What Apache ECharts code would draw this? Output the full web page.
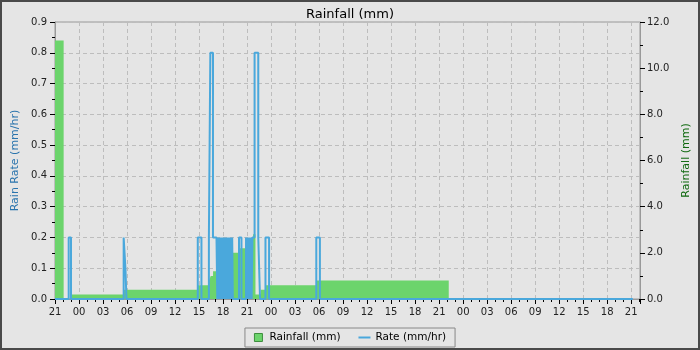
<!DOCTYPE html>
<html>
<head>
<meta charset="utf-8">
<script src="https://cdn.jsdelivr.net/npm/echarts@6/dist/echarts.min.js"></script>
<style>
html,body{margin:0;padding:0;background:#e5e5e5;}
#chart{width:700px;height:350px;}
</style>
</head>
<body>
<div id="chart"></div>
<script>
// x values: hours since 21:00 on the first day
const xTickLabels = ["21","00","03","06","09","12","15","18","21","00","03","06","09","12","15","18","21","00","03","06","09","12","15","18","21"];

// Rain rate (mm/hr), step values held until the next time
const rateTimes  = [0, 1.71, 2.0, 8.58, 8.8, 8.93, 17.84, 18.3, 19.23, 19.41, 19.74,
  20.18, 20.28, 20.38, 20.48, 20.58, 20.68, 20.78, 20.88, 20.98, 21.08, 21.18,
  21.28, 21.38, 21.48, 21.58, 21.68, 21.78, 21.88, 21.98, 22.08, 22.14, 22.22,
  22.99, 23.3,
  23.87, 23.97, 24.07, 24.17, 24.27, 24.37, 24.47, 24.57, 24.67,
  24.94, 25.4, 25.62, 26.3, 26.75, 32.65, 33.1, 72.2];
const rateValues = [0, 0.2, 0, 0.2, 0.1, 0, 0.2, 0, 0.2, 0.8, 0.2,
  0.2, 0, 0.2, 0, 0.2, 0, 0.2, 0, 0.2, 0, 0.2,
  0, 0.2, 0, 0.2, 0, 0.2, 0, 0.2, 0, 0.2, 0,
  0.2, 0,
  0.2, 0, 0.2, 0, 0.2, 0, 0.2, 0, 0.2,
  0.8, 0.2, 0, 0.2, 0, 0.2, 0, 0];

// Rainfall (mm), step values held until the next time
const rainTimes  = [0, 1.08, 2.05, 8.5, 17.75, 19.25, 19.46, 19.75, 20.2, 20.8, 21.5, 22.17, 23.0, 23.84, 24.3, 24.75, 25.05, 25.7, 26.3, 32.68, 49.2, 72.2];
const rainValues = [11.2, 0, 0.2, 0.4, 0.6, 0.8, 1.0, 1.2, 1.4, 1.6, 1.8, 2.0, 2.2, 2.4, 2.6, 2.8, 0.2, 0.4, 0.6, 0.8, 0, 0];

const FONT = 'DejaVu Sans';
const BLUE = '#4aa8dc';
const GREEN = '#6cd46c';
const chart = echarts.init(document.getElementById('chart'), null, {renderer: 'canvas'});
chart.setOption({
  animation: false,
  backgroundColor: '#e5e5e5',
  textStyle: {fontFamily: FONT},
  title: {
    text: 'Rainfall (mm)', left: 'center', top: 3,
    textStyle: {fontFamily: FONT, fontSize: 13, fontWeight: 'normal', color: '#000'}
  },
  legend: {
    bottom: 3, left: 'center',
    borderColor: '#888', borderWidth: 1, padding: [4, 9],
    itemGap: 18, itemWidth: 12, itemHeight: 8,
    textStyle: {fontFamily: FONT, fontSize: 10.5, color: '#000'},
    data: [
      {name: 'Rainfall (mm)', icon: 'path://M0,0 L8,0 L8,8 L0,8 Z', itemStyle: {color: GREEN, borderColor: '#3e8e3e', borderWidth: 1}},
      {name: 'Rate (mm/hr)', icon: 'path://M0,0 L12,0 L12,2 L0,2 Z', itemStyle: {color: BLUE, borderWidth: 0}}
    ]
  },
  graphic: [{
    type: 'rect', shape: {x: 1, y: 1, width: 698, height: 348},
    style: {fill: 'none', stroke: '#4a4a4a', lineWidth: 2}, silent: true, z: 100
  }],
  grid: {left: 55, right: 60, top: 22, bottom: 51, show: true, borderColor: '#999', borderWidth: 1, backgroundColor: 'transparent'},
  xAxis: {
    type: 'value', min: 0, max: 73.1, interval: 3,
    axisLine: {lineStyle: {color: '#999'}},
    axisTick: {length: 5, lineStyle: {color: '#000'}},
    minorTick: {show: true, splitNumber: 3, length: 3, lineStyle: {color: '#000'}},
    splitLine: {show: true, lineStyle: {color: '#bdbdbd', type: [4, 3]}},
    axisLabel: {
      fontFamily: FONT, fontSize: 10, color: '#222', margin: 8, showMaxLabel: false,
      formatter: function (v) {
        const i = Math.round(v / 3);
        return Math.abs(v - i * 3) < 1e-6 && xTickLabels[i] !== undefined ? xTickLabels[i] : '';
      }
    }
  },
  yAxis: [{
    type: 'value', min: 0, max: 0.9, interval: 0.1, position: 'left',
    name: 'Rain Rate (mm/hr)', nameLocation: 'middle', nameGap: 34,
    nameTextStyle: {fontFamily: FONT, fontSize: 11, color: '#2a74ad'},
    axisLine: {show: true, lineStyle: {color: '#999'}},
    axisTick: {show: true, length: 5, lineStyle: {color: '#000'}},
    minorTick: {show: true, splitNumber: 2, length: 3, lineStyle: {color: '#000'}},
    splitLine: {show: true, lineStyle: {color: '#bdbdbd', type: [4, 3]}},
    axisLabel: {fontFamily: FONT, fontSize: 10, color: '#222', margin: 8, formatter: v => v.toFixed(1)}
  }, {
    type: 'value', min: 0, max: 12, interval: 2, position: 'right',
    name: 'Rainfall (mm)', nameLocation: 'middle', nameGap: 36,
    nameTextStyle: {fontFamily: FONT, fontSize: 11, color: '#0f690f'},
    axisLine: {show: true, lineStyle: {color: '#999'}},
    axisTick: {show: true, length: 5, lineStyle: {color: '#000'}},
    minorTick: {show: true, splitNumber: 2, length: 3, lineStyle: {color: '#000'}},
    splitLine: {show: false},
    axisLabel: {fontFamily: FONT, fontSize: 10, color: '#222', margin: 7, formatter: v => v.toFixed(1)}
  }],
  series: [{
    name: 'Rainfall (mm)', type: 'line', yAxisIndex: 1, step: 'end',
    symbol: 'none', color: GREEN,
    lineStyle: {width: 0, color: GREEN},
    areaStyle: {color: GREEN, opacity: 1},
    data: rainTimes.map((t, i) => [t, rainValues[i]]),
    z: 1
  }, {
    name: 'Rate (mm/hr)', type: 'line', yAxisIndex: 0, step: 'end',
    symbol: 'none', color: BLUE,
    lineStyle: {width: 2, color: BLUE},
    data: rateTimes.map((t, i) => [t, rateValues[i]]),
    z: 2
  }]
});
</script>
</body>
</html>
